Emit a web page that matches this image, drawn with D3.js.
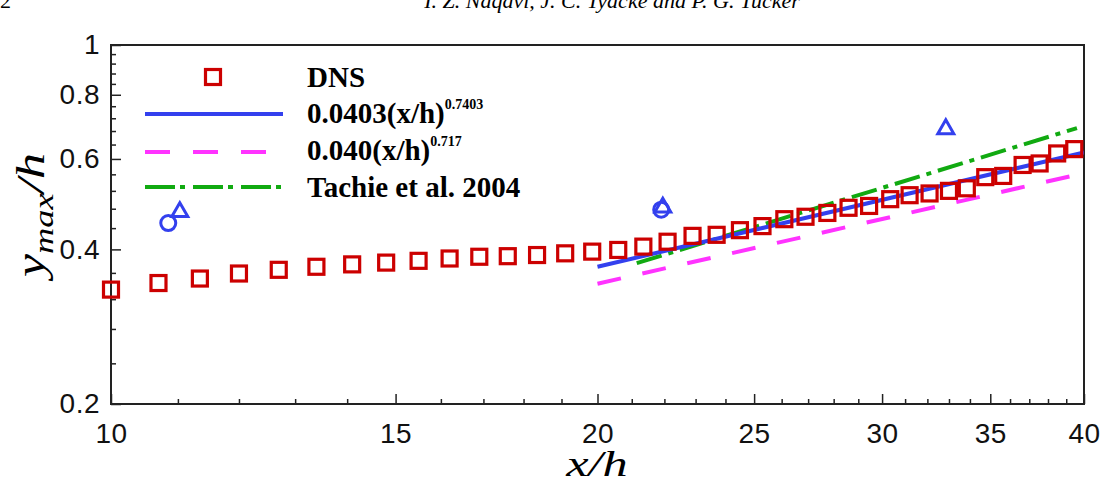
<!DOCTYPE html>
<html>
<head>
<meta charset="utf-8">
<script src="https://d3js.org/d3.v7.min.js"></script>
<style>
  body { margin: 0; background: #fff; }
  svg { display: block; }
  .tick text { font-family: "Liberation Sans", Arial, sans-serif; font-size: 28px; letter-spacing: 0.5px; fill: #111; }
</style>
</head>
<body>
<svg width="1104" height="484"></svg>
<script>
// DNS points (x/h, y_max/h)
const dnsX = [10.0, 10.7, 11.35, 12.0, 12.7, 13.4, 14.1, 14.8, 15.5, 16.2, 16.9, 17.6, 18.35, 19.1, 19.85,
  20.6, 21.35, 22.1, 22.9, 23.7, 24.5, 25.3, 26.1, 26.9, 27.75, 28.6, 29.45, 30.35, 31.2, 32.1,
  33.0, 33.85, 34.75, 35.65, 36.65, 37.55, 38.5, 39.45];
const dnsY = [0.334, 0.344, 0.351, 0.359, 0.365, 0.370, 0.374, 0.377, 0.380, 0.384, 0.387, 0.388, 0.390, 0.393, 0.396,
  0.399, 0.405, 0.414, 0.425, 0.427, 0.436, 0.444, 0.458, 0.463, 0.471, 0.482, 0.486, 0.501, 0.510, 0.514,
  0.520, 0.526, 0.553, 0.556, 0.584, 0.588, 0.615, 0.627];

// fit lines (end points, straight in log-log)
const fitBlueX = [20, 40];
const fitBlueY = [0.370, 0.618];
const fitPinkX = [20, 40];
const fitPinkY = [0.343, 0.563];
const tachieX = [21.15, 39.6];
const tachieY = [0.376, 0.689];

// open blue symbols
const circleX = [10.85, 21.9];
const circleY = [0.450, 0.478];
const triX = [11.03, 21.95, 32.85];
const triY = [0.473, 0.483, 0.686];

// ticks
const xMajor = [10, 15, 20, 25, 30, 35, 40];
const xMinor = [11, 12, 13, 14, 16, 17, 18, 19, 21, 22, 23, 24, 26, 27, 28, 29, 31, 32, 33, 34, 36, 37, 38, 39];
const yMajor = [0.2, 0.4, 0.6, 0.8, 1];
const yMinor = [0.24, 0.28, 0.32, 0.36, 0.44, 0.48, 0.52, 0.56, 0.64, 0.68, 0.72, 0.76, 0.84, 0.88, 0.92, 0.96];

const svg = d3.select("svg");
const mLeft = 111, mRight = 1084, mTop = 45, mBottom = 404;

const x = d3.scaleLog().domain([10, 40]).range([mLeft, mRight]);
const y = d3.scaleLog().domain([0.2, 1]).range([mBottom, mTop]);

// page header (cut off at the top, as in the source page)
svg.append("text").attr("x", 0).attr("y", 8)
  .style("font-family", "'Liberation Serif', serif").style("font-size", "22px")
  .text("2");
svg.append("text").attr("x", 612).attr("y", 8).attr("text-anchor", "middle")
  .style("font-family", "'Liberation Serif', serif").style("font-size", "22px").style("font-style", "italic")
  .text("I. Z. Naqavi, J. C. Tyacke and P. G. Tucker");

// axes
svg.append("g").attr("transform", `translate(0,${mBottom})`)
  .call(d3.axisBottom(x).tickValues(xMajor).tickFormat(d3.format("d")).tickSizeInner(-10).tickSizeOuter(0).tickPadding(19));
svg.append("g").attr("transform", `translate(0,${mBottom})`)
  .call(d3.axisBottom(x).tickValues(xMinor).tickFormat("").tickSizeInner(-5).tickSizeOuter(0));
svg.append("g").attr("transform", `translate(${mLeft},0)`)
  .call(d3.axisLeft(y).tickValues(yMajor).tickFormat(d => d === 1 ? "1" : d3.format(".1f")(d)).tickSizeInner(-10).tickSizeOuter(0).tickPadding(11));
svg.append("g").attr("transform", `translate(${mLeft},0)`)
  .call(d3.axisLeft(y).tickValues(yMinor).tickFormat("").tickSizeInner(-5).tickSizeOuter(0));
svg.selectAll(".domain").remove();
svg.selectAll(".tick line").attr("stroke", "#222").attr("stroke-width", 1.5);

svg.append("rect").attr("x", mLeft).attr("y", mTop).attr("width", mRight - mLeft).attr("height", mBottom - mTop)
  .attr("fill", "none").attr("stroke", "#222").attr("stroke-width", 2);

// axis titles (glyphs are wide in the original, so stretch along the text)
const serif = "'Liberation Serif', 'Times New Roman', serif";
svg.append("text").attr("transform", "translate(597,476) scale(1.4,1)").attr("text-anchor", "middle")
  .style("font-family", serif).style("font-size", "36px").style("font-style", "italic")
  .text("x/h");
const yt = svg.append("text").attr("transform", "translate(44,215) rotate(-90) scale(1.3,1)").attr("text-anchor", "middle")
  .style("font-family", serif).style("font-size", "40px").style("font-style", "italic");
yt.append("tspan").text("y");
yt.append("tspan").attr("dy", 9).style("font-size", "28px").text("max");
yt.append("tspan").attr("dy", -9).text("/h");

svg.append("defs").append("clipPath").attr("id", "plot")
  .append("rect").attr("x", mLeft).attr("y", mTop).attr("width", mRight - mLeft).attr("height", mBottom - mTop);
const plot = svg.append("g").attr("clip-path", "url(#plot)");

const line = d3.line().x(d => x(d[0])).y(d => y(d[1]));
const blue = "#3340ee", pink = "#ff33ff", green = "#11aa11", red = "#cc0000";

plot.append("path").datum(d3.zip(tachieX, tachieY)).attr("d", line)
  .attr("fill", "none").attr("stroke", green).attr("stroke-width", 4).attr("stroke-dasharray", "26 7 5 7");
plot.append("path").datum(d3.zip(fitPinkX, fitPinkY)).attr("d", line)
  .attr("fill", "none").attr("stroke", pink).attr("stroke-width", 4).attr("stroke-dasharray", "24 22");

// DNS squares
svg.selectAll("rect.dns").data(d3.zip(dnsX, dnsY)).enter().append("rect").attr("class", "dns")
  .attr("x", d => x(d[0]) - 7.5).attr("y", d => y(d[1]) - 7.5).attr("width", 15).attr("height", 15)
  .attr("fill", "none").attr("stroke", red).attr("stroke-width", 3.2);

plot.append("path").datum(d3.zip(fitBlueX, fitBlueY)).attr("d", line)
  .attr("fill", "none").attr("stroke", blue).attr("stroke-width", 4);

plot.selectAll("circle.exp").data(d3.zip(circleX, circleY)).enter().append("circle")
  .attr("cx", d => x(d[0])).attr("cy", d => y(d[1])).attr("r", 7.5)
  .attr("fill", "none").attr("stroke", blue).attr("stroke-width", 3);
const tri = d3.symbol().type(d3.symbolTriangle).size(110);
plot.selectAll("path.tri").data(d3.zip(triX, triY)).enter().append("path")
  .attr("transform", d => `translate(${x(d[0])},${y(d[1])})`).attr("d", tri)
  .attr("fill", "none").attr("stroke", blue).attr("stroke-width", 3);

// legend
const lg = svg.append("g");
const lx0 = 145, lx1 = 283, tx = 307;
const legFont = s => s.style("font-family", serif).style("font-weight", "bold").style("font-size", "29px");
lg.append("rect").attr("x", 213 - 7.5).attr("y", 77 - 7.5).attr("width", 15).attr("height", 15)
  .attr("fill", "none").attr("stroke", red).attr("stroke-width", 3.2);
lg.append("line").attr("x1", lx0).attr("x2", lx1).attr("y1", 114).attr("y2", 114)
  .attr("stroke", blue).attr("stroke-width", 4);
lg.append("line").attr("x1", lx0).attr("x2", lx1).attr("y1", 152).attr("y2", 152)
  .attr("stroke", pink).attr("stroke-width", 4).attr("stroke-dasharray", "25 23");
lg.append("line").attr("x1", lx0).attr("x2", lx1).attr("y1", 187).attr("y2", 187)
  .attr("stroke", green).attr("stroke-width", 4).attr("stroke-dasharray", "30 5 5 8");

lg.append("text").attr("x", tx).attr("y", 87).call(legFont).text("DNS");
const t1 = lg.append("text").attr("x", tx).attr("y", 123).call(legFont);
t1.append("tspan").text("0.0403(x/h)");
t1.append("tspan").attr("dy", -14).style("font-size", "14px").text("0.7403");
const t2 = lg.append("text").attr("x", tx).attr("y", 160).call(legFont);
t2.append("tspan").text("0.040(x/h)");
t2.append("tspan").attr("dy", -14).style("font-size", "14px").text("0.717");
lg.append("text").attr("x", tx).attr("y", 197).call(legFont).text("Tachie et al. 2004");
</script>
</body>
</html>
